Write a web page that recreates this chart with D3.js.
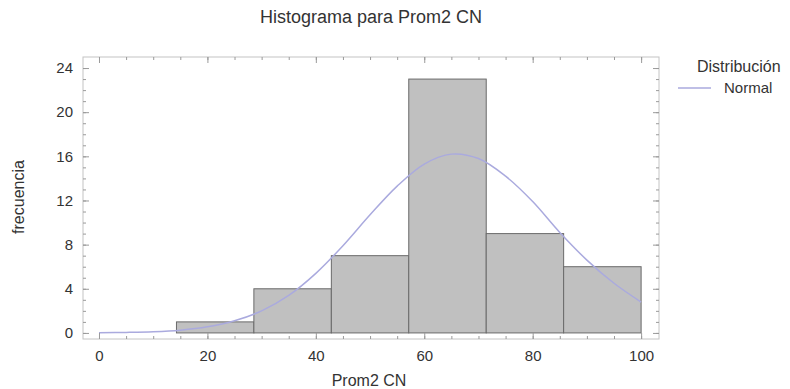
<!DOCTYPE html>
<html>
<head>
<meta charset="utf-8">
<script src="https://cdn.jsdelivr.net/npm/d3@7"></script>
<style>
  body { margin: 0; background: #fff; }
  text { font-family: "Liberation Sans", Arial, sans-serif; fill: #333; }
</style>
</head>
<body>
<script>
// histogram bins (class limits) and counts
var binEdges = [0, 14.29, 28.57, 42.86, 57.14, 71.43, 85.71, 100];
var counts = [0, 1, 4, 7, 23, 9, 6];

// fitted normal curve
var curveX = [0, 5, 10, 15, 20, 25, 30, 35, 40, 45, 50, 55, 60, 65, 70, 75, 80, 85, 90, 95, 100];
var curveY = [0.02, 0.05, 0.11, 0.25, 0.55, 1.1, 2.0, 3.4, 5.4, 7.9, 10.7, 13.3, 15.3, 16.2, 15.8, 14.2, 11.9, 9.1, 6.6, 4.5, 2.8];

var xTicks = [0, 20, 40, 60, 80, 100];
var yTicks = [0, 4, 8, 12, 16, 20, 24];

var width = 790, height = 389;
var margin = {left: 83, right: 659, top: 57, bottom: 339};

var svg = d3.select("body").append("svg")
  .attr("width", width)
  .attr("height", height);

var x = d3.scaleLinear().domain([-2.95, 103.3]).range([margin.left, margin.right]);
var y = d3.scaleLinear().domain([-0.55, 25]).range([margin.bottom, margin.top]);

// bars
var bins = counts.map(function(c, i) { return {x0: binEdges[i], x1: binEdges[i + 1], n: c}; });
svg.selectAll("rect.bar")
  .data(bins.filter(function(d) { return d.n > 0; }))
  .enter().append("rect")
  .attr("class", "bar")
  .attr("x", function(d) { return x(d.x0); })
  .attr("width", function(d) { return x(d.x1) - x(d.x0); })
  .attr("y", function(d) { return y(d.n); })
  .attr("height", function(d) { return y(0) - y(d.n); })
  .style("fill", "#c0c0c0")
  .style("stroke", "#6a6a6a")
  .style("stroke-width", 1);

// normal curve
var line = d3.line()
  .x(function(d) { return x(d[0]); })
  .y(function(d) { return y(d[1]); })
  .curve(d3.curveCatmullRom);
svg.append("path")
  .datum(curveX.map(function(v, i) { return [v, curveY[i]]; }))
  .attr("d", line)
  .style("fill", "none")
  .style("stroke", "#aaaade")
  .style("stroke-width", 1.5);

// frame
svg.append("rect")
  .attr("x", margin.left).attr("y", margin.top)
  .attr("width", margin.right - margin.left).attr("height", margin.bottom - margin.top)
  .style("fill", "none")
  .style("stroke", "#c4c4c4");

// axes with inward ticks
var tickColor = "#9a9a9a";
function styleAxis(g) {
  g.select(".domain").remove();
  g.selectAll("line").style("stroke", tickColor);
  g.selectAll("text").style("font-size", "15px").style("fill", "#333");
}

svg.append("g")
  .attr("transform", "translate(0," + margin.bottom + ")")
  .call(d3.axisBottom(x).tickValues(d3.range(0, 101, 5)).tickSize(-3).tickFormat(""))
  .call(styleAxis);
svg.append("g")
  .attr("transform", "translate(0," + margin.bottom + ")")
  .call(d3.axisBottom(x).tickValues(xTicks).tickSize(-6).tickPadding(11))
  .call(styleAxis);
svg.append("g")
  .attr("transform", "translate(0," + margin.top + ")")
  .call(d3.axisTop(x).tickValues(d3.range(0, 101, 5)).tickSize(-3).tickFormat(""))
  .call(styleAxis);
svg.append("g")
  .attr("transform", "translate(0," + margin.top + ")")
  .call(d3.axisTop(x).tickValues(xTicks).tickSize(-6).tickFormat(""))
  .call(styleAxis);

svg.append("g")
  .attr("transform", "translate(" + margin.left + ",0)")
  .call(d3.axisLeft(y).tickValues(d3.range(0, 25, 1)).tickSize(-3).tickFormat(""))
  .call(styleAxis);
svg.append("g")
  .attr("transform", "translate(" + margin.left + ",0)")
  .call(d3.axisLeft(y).tickValues(yTicks).tickSize(-6).tickPadding(10))
  .call(styleAxis);
svg.append("g")
  .attr("transform", "translate(" + margin.right + ",0)")
  .call(d3.axisRight(y).tickValues(d3.range(0, 25, 1)).tickSize(-3).tickFormat(""))
  .call(styleAxis);
svg.append("g")
  .attr("transform", "translate(" + margin.right + ",0)")
  .call(d3.axisRight(y).tickValues(yTicks).tickSize(-6).tickFormat(""))
  .call(styleAxis);

// title and axis labels
svg.append("text")
  .attr("x", 371).attr("y", 23)
  .style("text-anchor", "middle")
  .style("font-size", "18px")
  .text("Histograma para Prom2 CN");

svg.append("text")
  .attr("x", 369).attr("y", 386)
  .style("text-anchor", "middle")
  .style("font-size", "16px")
  .text("Prom2 CN");

svg.append("text")
  .attr("transform", "translate(24,197) rotate(-90)")
  .style("text-anchor", "middle")
  .style("font-size", "16px")
  .text("frecuencia");

// legend
svg.append("text")
  .attr("x", 697).attr("y", 72)
  .style("font-size", "16px")
  .text("Distribución");
svg.append("line")
  .attr("x1", 678).attr("x2", 711)
  .attr("y1", 88).attr("y2", 88)
  .style("stroke", "#aaaade")
  .style("stroke-width", 1.5);
svg.append("text")
  .attr("x", 724).attr("y", 93)
  .style("font-size", "15px")
  .text("Normal");
</script>
</body>
</html>
